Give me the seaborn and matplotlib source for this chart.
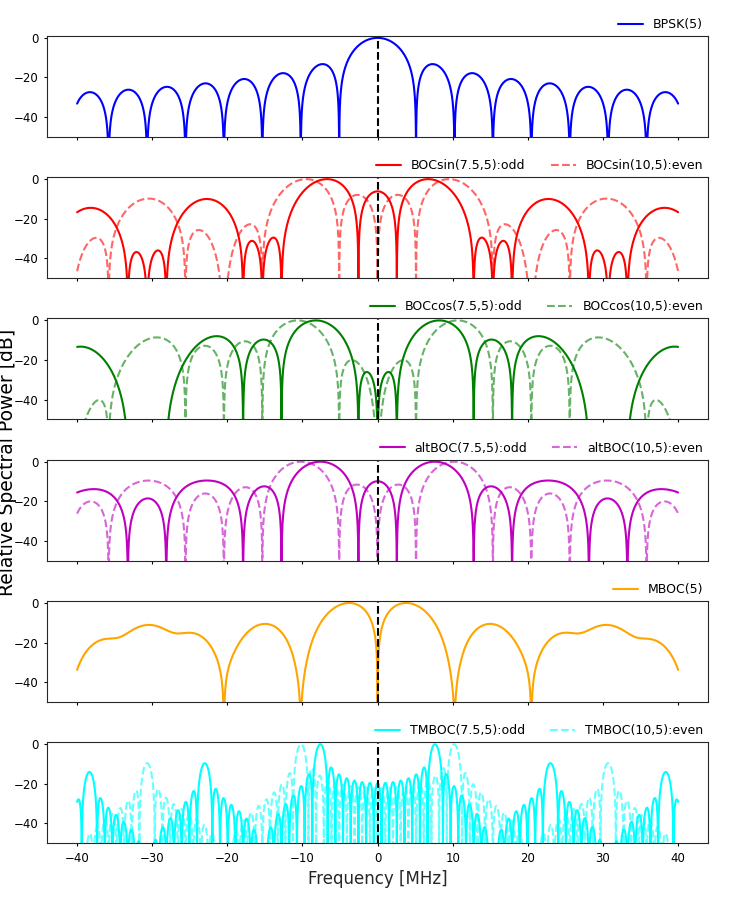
import numpy as np
import pandas as pd
import matplotlib
matplotlib.use("Agg")
import matplotlib.pyplot as plt
import seaborn as sns

# GNSS base rate (MHz); the signal names are multiples of it
F0 = 1.023

# frequency axis (MHz)
freq_min, freq_max = -40, 40
n_points = 16000

# signals: label, (fs, fc) multiples of F0
bpsk_label = "BPSK(5)"
bpsk_fc = 5

bocsin_labels = ["BOCsin(7.5,5):odd", "BOCsin(10,5):even"]
bocsin_params = [(7.5, 5), (10, 5)]

boccos_labels = ["BOCcos(7.5,5):odd", "BOCcos(10,5):even"]
boccos_params = [(7.5, 5), (10, 5)]

altboc_labels = ["altBOC(7.5,5):odd", "altBOC(10,5):even"]
altboc_params = [(7.5, 5), (10, 5)]

mboc_label = "MBOC(5)"
mboc_params = [(5, 5), (30, 5)]
mboc_weights = [10 / 11, 1 / 11]

tmboc_labels = ["TMBOC(7.5,5):odd", "TMBOC(10,5):even"]
tmboc_params = [(7.5, 1), (10, 1)]

panel_colors = ["blue", "red", "green", "m", "orange", "cyan"]


def bpsk_psd(f, m):
    fc = m * F0
    return fc * np.sin(np.pi * f / fc) ** 2 / (np.pi * f) ** 2


def chip_term(f, a, b):
    fc = b * F0
    n = int(round(2 * a / b))
    if n % 2 == 0:
        return np.sin(np.pi * f / fc)
    return np.cos(np.pi * f / fc)


def boc_sin_psd(f, a, b):
    fs, fc = a * F0, b * F0
    num = np.sin(np.pi * f / (2 * fs)) * chip_term(f, a, b)
    return fc * (num / (np.pi * f * np.cos(np.pi * f / (2 * fs)))) ** 2


def boc_cos_psd(f, a, b):
    fs, fc = a * F0, b * F0
    num = 2 * chip_term(f, a, b) * np.sin(np.pi * f / (4 * fs)) ** 2
    return fc * (num / (np.pi * f * np.cos(np.pi * f / (2 * fs)))) ** 2


def alt_boc_psd(f, a, b):
    fs, fc = a * F0, b * F0
    c2 = np.cos(np.pi * f / (2 * fs))
    c4 = np.cos(np.pi * f / (4 * fs))
    bracket = c2 ** 2 - c2 - 2 * c2 * c4 + 2
    return 4 * fc / (np.pi * f) ** 2 * chip_term(f, a, b) ** 2 / c2 ** 2 * bracket


def to_db(psd):
    psd = np.abs(psd)
    return 10 * np.log10(psd / psd.max() + 1e-30)


freq = np.linspace(freq_min, freq_max, n_points)

# build one long table: panel, label, style, freq, dB
rows = []
rows.append(pd.DataFrame({"panel": 0, "label": bpsk_label, "dash": False,
                          "freq": freq, "db": to_db(bpsk_psd(freq, bpsk_fc))}))
for panel, (labels, params, func) in enumerate(
        [(bocsin_labels, bocsin_params, boc_sin_psd),
         (boccos_labels, boccos_params, boc_cos_psd),
         (altboc_labels, altboc_params, alt_boc_psd)], start=1):
    for k, (lab, (a, b)) in enumerate(zip(labels, params)):
        rows.append(pd.DataFrame({"panel": panel, "label": lab, "dash": k == 1,
                                  "freq": freq, "db": to_db(func(freq, a, b))}))
mboc = sum(w * boc_sin_psd(freq, a, b) for w, (a, b) in zip(mboc_weights, mboc_params))
rows.append(pd.DataFrame({"panel": 4, "label": mboc_label, "dash": False,
                          "freq": freq, "db": to_db(mboc)}))
for k, (lab, (a, b)) in enumerate(zip(tmboc_labels, tmboc_params)):
    rows.append(pd.DataFrame({"panel": 5, "label": lab, "dash": k == 1,
                              "freq": freq, "db": to_db(boc_sin_psd(freq, a, b))}))
df = pd.concat(rows, ignore_index=True)

sns.set_style("ticks", {"axes.edgecolor": "0.15", "xtick.color": "k", "ytick.color": "k",
                        "text.color": "k"})
plt.rcParams["font.family"] = ["DejaVu Sans"]
plt.rcParams["xtick.major.size"] = 2.5
plt.rcParams["ytick.major.size"] = 2.5

fig, axes = plt.subplots(6, 1, figsize=(7.47, 8.97), dpi=100, sharex=True)
fig.subplots_adjust(left=0.063, right=0.948, top=0.96, bottom=0.06, hspace=0.4)

for i, ax in enumerate(axes):
    sub = df[df["panel"] == i]
    color = panel_colors[i]
    for lab, grp in sub.groupby("label", sort=False):
        dashed = grp["dash"].iloc[0]
        sns.lineplot(x=grp["freq"].values, y=grp["db"].values, ax=ax, color=color,
                     linestyle="--" if dashed else "-", alpha=0.6 if dashed else 1.0,
                     linewidth=1.5, label=lab, estimator=None, sort=False)
    ax.axvline(0, color="k", linestyle="--", linewidth=1.5)
    ax.set_ylim(-50, 1)
    ax.set_yticks([0, -20, -40])
    ax.tick_params(labelsize=8.5)
    ax.legend(loc="lower right", bbox_to_anchor=(1, 1), borderaxespad=0,
              frameon=False, ncol=2, fontsize=9)

axes[-1].set_xlim(-44, 44)
axes[-1].set_xticks(np.arange(-40, 41, 10))
axes[-1].set_xlabel("Frequency [MHz]", fontsize=12)
fig.text(0.0105, 0.485, "Relative Spectral Power [dB]", rotation=90,
         va="center", ha="center", fontsize=13.5)

fig.savefig("out.png", dpi=100)
